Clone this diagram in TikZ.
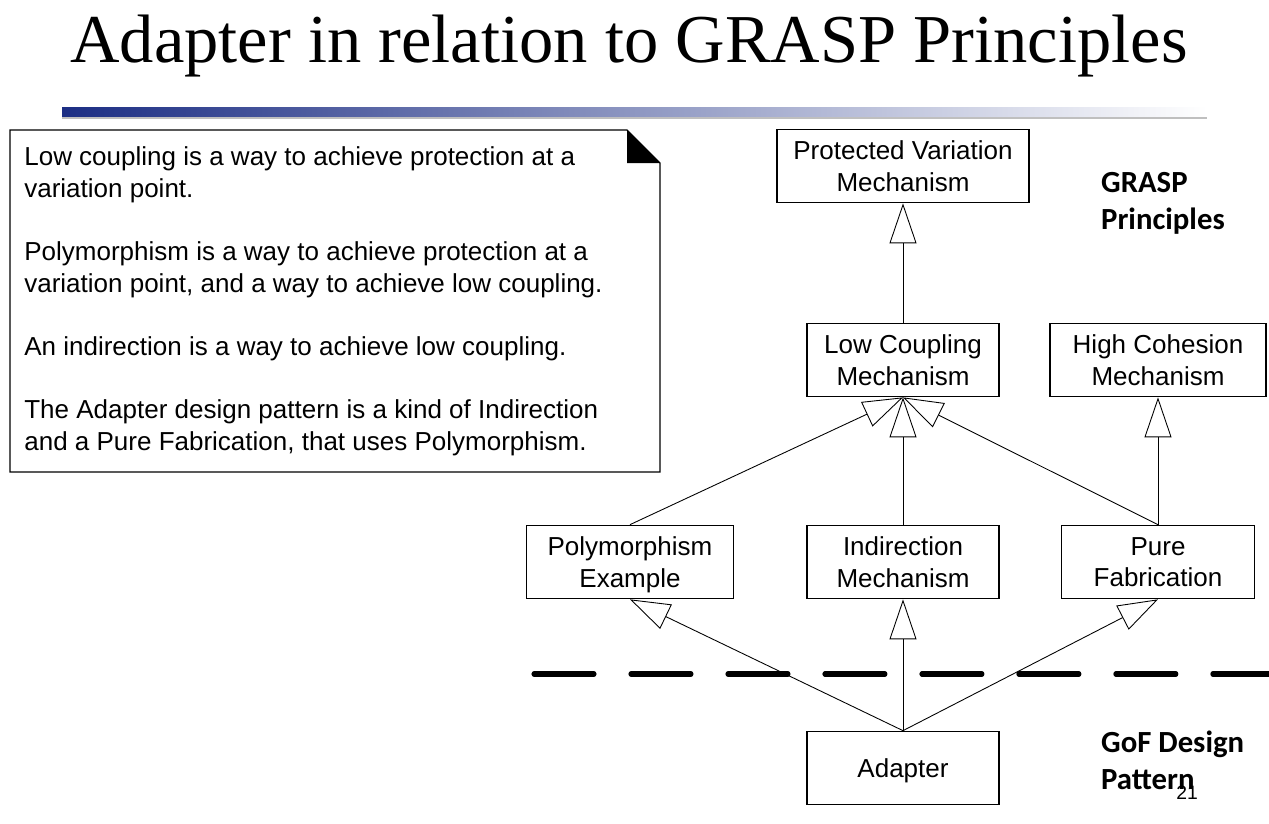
\documentclass[tikz,border=0pt]{standalone}
\usepackage{fontspec}
\setmainfont{Liberation Sans}
\newfontfamily\titlefont{Liberation Serif}
\newfontfamily\labelfont{Carlito}
\usetikzlibrary{arrows.meta,positioning}
\definecolor{barblue}{RGB}{28,46,132}
\begin{document}
\begin{tikzpicture}[x=0.02cm, y=-0.02cm,
  box/.style={draw, rectangle, line width=0.7pt, align=center, inner sep=0pt, text depth=0pt,
    minimum height=1.47cm, font=\fontsize{14.8}{18}\selectfont},
  gen/.style={line width=0.5pt, -{Triangle[length=0.8cm, width=0.54cm, fill=white, line width=0.5pt]}},
  layer/.style={anchor=west, align=left, font=\labelfont\bfseries\fontsize{17.5}{21}\selectfont}]
  \useasboundingbox (0,0) rectangle (1269,823);

  % title and bar
  \node (title) [anchor=base] at (629,62) {\titlefont\fontsize{39}{43}\selectfont Adapter in relation to GRASP Principles};
  \shade[left color=barblue, right color=white] (62,107) rectangle (1207,117);
  \fill[black!25] (62,117) rectangle (1207,119);

  % note
  \draw[line width=0.7pt] (10,130) -- (627,130) -- (660,163) -- (660,472) -- (10,472) -- cycle;
  \fill (627,130) -- (627,163) -- (660,163) -- cycle;
  \node (note) [anchor=north west, align=left, inner sep=0pt,
    font=\fontsize{14.8}{18.3}\selectfont] at (24,146)
    {Low coupling is a way to achieve protection at a\\
     variation point.\\[17.5pt]
     Polymorphism is a way to achieve protection at a\\
     variation point, and a way to achieve low coupling.\\[17.5pt]
     An indirection is a way to achieve low coupling.\\[17.5pt]
     The Adapter design pattern is a kind of Indirection\\
     and a Pure Fabrication, that uses Polymorphism.};

  % boxes
  \node (pv) [box, minimum width=5.04cm] at (903,166) {Protected Variation\\Mechanism};
  \node (lc) [box, minimum width=3.84cm] at (903,360) {Low Coupling\\Mechanism};
  \node (hc) [box, minimum width=4.32cm] at (1158,360) {High Cohesion\\Mechanism};
  \node (poly) [box, minimum width=4.14cm] at (630,562) {Polymorphism\\Example};
  \node (ind) [box, minimum width=3.84cm] at (903,562) {Indirection\\Mechanism};
  \node (pure) [box, minimum width=3.86cm] at (1158,562) {Pure\\Fabrication};
  \node (adapter) [box, minimum width=3.84cm] at (903,768) {Adapter};

  % generalisations
  \draw[gen] (lc.north) -- (pv.south);
  \draw[gen] (poly.north) -- (lc.south);
  \draw[gen] (ind.north) -- (lc.south);
  \draw[gen] (pure.north) -- (lc.south);
  \draw[gen] (pure.north) -- (hc.south);
  \draw[gen] (adapter.north) -- (poly.south);
  \draw[gen] (adapter.north) -- (ind.south);
  \draw[gen] (adapter.north) -- (pure.south);

  % layer divider
  \coordinate (cutl) at (534,674);
  \coordinate (cutr) at (1269,674);
  \draw[line width=2.9pt, line cap=round, dash pattern=on 1.2cm off 0.74cm] (cutl) -- (cutr);

  % layer labels
  \node (grasp) [layer] at (1095,203) {GRASP\\Principles};
  \node (gof) [layer] at (1095,760) {GoF Design\\Pattern};
  \node (page) [anchor=base, font=\fontsize{11}{13}\selectfont] at (1187,799) {21};
\end{tikzpicture}
\end{document}
